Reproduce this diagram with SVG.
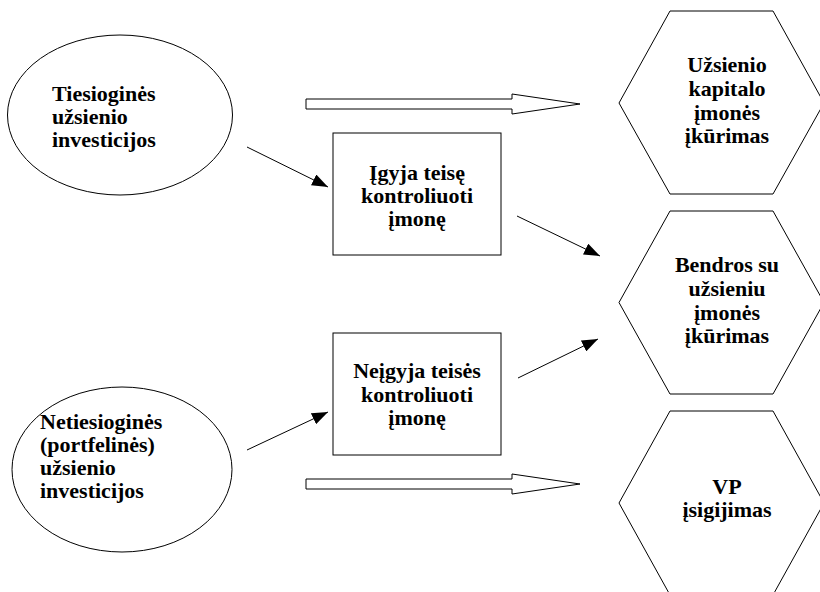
<svg xmlns="http://www.w3.org/2000/svg" width="820" height="592" viewBox="0 0 820 592">
  <defs>
    <marker id="head" markerUnits="userSpaceOnUse" markerWidth="16" markerHeight="12" refX="16" refY="6" orient="auto">
      <path d="M0,0 L16,6 L0,12 Z" fill="#000"/>
    </marker>
    <style>
      .shape { fill: #fff; stroke: #000; stroke-width: 1; }
      .mid { text-anchor: middle; }
      .conn { stroke: #000; stroke-width: 1; fill: none; marker-end: url(#head); }
      .hollow { fill: #fff; stroke: #000; stroke-width: 1; }
    </style>
  </defs>
  <rect width="820" height="592" fill="#fff"/>

  <g font-family="'Liberation Serif', 'DejaVu Serif', serif" font-weight="bold" font-size="22" fill="#000">
    <g id="direct-investment">
      <ellipse class="shape" cx="120" cy="115" rx="112.5" ry="80"/>
      <text x="52" y="101">Tiesioginės</text>
      <text x="52" y="124">užsienio</text>
      <text x="52" y="147">investicijos</text>
    </g>

    <g id="portfolio-investment">
      <ellipse class="shape" cx="122" cy="469.5" rx="110" ry="82.5"/>
      <text x="40" y="429">Netiesioginės</text>
      <text x="40" y="452">(portfelinės)</text>
      <text x="40" y="475">užsienio</text>
      <text x="40" y="498">investicijos</text>
    </g>

    <g id="gains-control">
      <rect class="shape" x="333" y="133" width="168" height="122"/>
      <text class="mid" x="417" y="180">Įgyja teisę</text>
      <text class="mid" x="417" y="203">kontroliuoti</text>
      <text class="mid" x="417" y="226">įmonę</text>
    </g>

    <g id="no-control">
      <rect class="shape" x="333" y="333" width="168" height="122"/>
      <text class="mid" x="417" y="378">Neįgyja teisės</text>
      <text class="mid" x="417" y="402">kontroliuoti</text>
      <text class="mid" x="417" y="425">įmonę</text>
    </g>

    <g id="foreign-capital-company">
      <polygon class="shape" points="670,11 773,11 824,103 773,194 670,194 619,103"/>
      <text class="mid" x="727" y="72">Užsienio</text>
      <text class="mid" x="727" y="96">kapitalo</text>
      <text class="mid" x="727" y="120">įmonės</text>
      <text class="mid" x="727" y="143">įkūrimas</text>
    </g>

    <g id="joint-venture">
      <polygon class="shape" points="670,211 773,211 824,302.5 773,394 670,394 619,302.5"/>
      <text class="mid" x="727" y="272">Bendros su</text>
      <text class="mid" x="727" y="296">užsieniu</text>
      <text class="mid" x="727" y="320">įmonės</text>
      <text class="mid" x="727" y="343">įkūrimas</text>
    </g>

    <g id="securities-purchase">
      <polygon class="shape" points="670,411 773,411 824,503 773,595 670,595 619,503"/>
      <text class="mid" x="727" y="494">VP</text>
      <text class="mid" x="727" y="517">įsigijimas</text>
    </g>
  </g>

  <g id="connectors">
    <polygon class="hollow" points="306,99 512,99 512,94 580,104 512,114 512,109 306,109"/>
    <polygon class="hollow" points="306,479 512,479 512,474 580,484 512,494 512,489 306,489"/>
    <line class="conn" x1="247" y1="147" x2="328" y2="187"/>
    <line class="conn" x1="517" y1="216" x2="600" y2="256"/>
    <line class="conn" x1="247" y1="450" x2="328" y2="412"/>
    <line class="conn" x1="518" y1="378" x2="598" y2="339"/>
  </g>
</svg>
